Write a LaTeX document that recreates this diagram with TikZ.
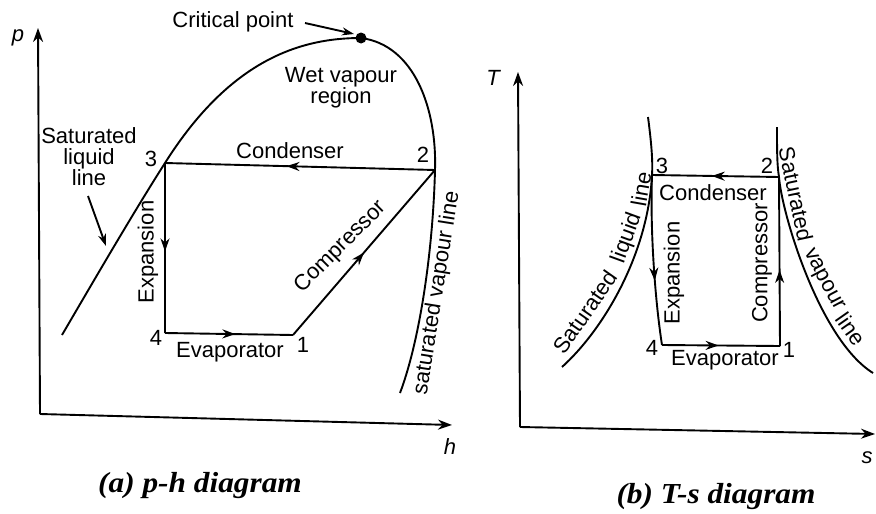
\documentclass[tikz,border=0pt]{standalone}
\usepackage{fontspec}
\setmainfont{Liberation Sans}
\newfontfamily\capfont{Liberation Serif}
\usetikzlibrary{arrows.meta,decorations.markings}
\newcommand\labfont{\fontsize{22}{21}\selectfont}
\begin{document}
\begin{tikzpicture}[x=1pt,y=-1pt,
  ln/.style={line width=1.9pt, line join=round},
  axis/.style={line width=1.9pt,-{Stealth[length=14pt,width=10pt]}},
  midarrow/.style={decoration={markings,mark=at position #1 with {\arrow{Stealth[length=13pt,width=9pt]}}},postaction={decorate}},
  lab/.style={font=\labfont, inner sep=0pt},
  axlab/.style={font=\labfont\itshape, inner sep=0pt},
  caption/.style={inner sep=0pt}]
\useasboundingbox (0,0) rectangle (876,514);

% ---------------- (a) p-h diagram ----------------
\coordinate (O1) at (40,414);
\coordinate (Ptop) at (38,28);
\coordinate (Hend) at (452,425);
\draw[axis] (O1) -- (Ptop);
\draw[axis] (O1) -- (Hend);
\node[axlab] (plab) at (18,38) {p};
\node[axlab] (hlab) at (450,447) {h};

\coordinate (CP) at (361,38);
\coordinate (L1) at (293,335);
\coordinate (L2) at (435,170);
\coordinate (L3) at (165,163);
\coordinate (L4) at (165,333);
\coordinate (Lbot) at (62,335);
\coordinate (Rbot) at (400,393);

% dome
\draw[ln] (Lbot) .. controls (100,270) and (135,210) .. (L3)
  .. controls (230,60) and (300,38) .. (CP)
  .. controls (415,45) and (437,110) .. (L2)
  .. controls (433,250) and (420,340) .. (Rbot);
\fill (CP) circle (5.5);

% cycle
\draw[ln,midarrow=0.55] (L2) -- (L3);
\draw[ln,midarrow=0.52] (L3) -- (L4);
\draw[ln,midarrow=0.55] (L4) -- (L1);
\draw[ln,midarrow=0.5] (L1) -- (L2);

% labels
\node[lab] (cpt) at (233,22) {Critical point};
\coordinate (cpa) at (305,23);
\draw[ln,-{Stealth[length=12pt,width=8pt]}] (cpa) -- (354,34);
\node[lab, align=center] (wet) at (341,88) {Wet vapour\\region};
\node[lab, align=center] (satliq) at (89,157) {Saturated\\liquid\\line};
\coordinate (satliqtip) at (106,246);
\coordinate (satliqtail) at (88,196);
\draw[ln,-{Stealth[length=12pt,width=8pt]}] (satliqtail) -- (satliqtip);
\node[lab] (condA) at (290,151) {Condenser};
\node[lab] (n3A) at (151,159) {3};
\node[lab] (n2A) at (423,155) {2};
\node[lab, rotate=90] (expA) at (148,252) {Expansion};
\node[lab] (n4A) at (156,338) {4};
\node[lab] (n1A) at (303,345) {1};
\node[lab] (evapA) at (230,352) {Evaporator};
\node[lab, rotate=45] (compA) at (341,247) {Compressor};
\node[lab, rotate=81] (satvapA) at (437,293) {saturated vapour line};

\node[caption] (capa) at (200,486) {\scalebox{1.08}[1]{\capfont\bfseries\itshape\fontsize{29}{29}\selectfont (a) p-h diagram}};

% ---------------- (b) T-s diagram ----------------
\coordinate (O2) at (520,427);
\coordinate (Ttop) at (518,72);
\coordinate (Send) at (875,434);
\draw[axis] (O2) -- (Ttop);
\draw[axis] (O2) -- (Send);
\node[axlab] (tlab) at (493,78) {T};
\node[axlab] (slab) at (867,458) {s};

\coordinate (R1) at (780,346);
\coordinate (R2) at (779,177);
\coordinate (R3) at (652,175);
\coordinate (R4) at (662,345);

\draw[ln] (648,117) .. controls (651,140) and (653,160) .. (R3)
  .. controls (648,255) and (603,330) .. (562,367);
\draw[ln] (777,127) .. controls (777,150) and (777,165) .. (R2)
  .. controls (782,215) and (820,340) .. (873,373);

\draw[ln,midarrow=0.53] (R2) -- (R3);
\draw[ln,midarrow=0.62] (R3) .. controls (650,230) and (655,300) .. (R4);
\draw[ln,midarrow=0.48] (R4) -- (R1);
\draw[ln,midarrow=0.45] (R1) -- (R2);

\node[lab] (condB) at (713,193) {Condenser};
\node[lab] (n3B) at (662,166) {3};
\node[lab] (n2B) at (767,166) {2};
\node[lab, rotate=90] (expB) at (674,273) {Expansion};
\node[lab, rotate=90] (compB) at (762,263) {Compressor};
\node[lab] (n4B) at (652,348) {4};
\node[lab] (n1B) at (789,350) {1};
\node[lab] (evapB) at (725,360) {Evaporator};

% Saturated liquid line (following the curve)
\node[lab, rotate=55] (sl1) at (585,312) {Saturated};
\node[lab, rotate=70] (sl2) at (627,238) {liquid};
\node[lab, rotate=80] (sl3) at (641,189) {line};
% Saturated vapour line (following the curve)
\node[lab, rotate=-78] (sv1) at (796,194) {Saturated};
\node[lab, rotate=-62] (sv2) at (823,280) {vapour};
\node[lab, rotate=-55] (sv3) at (851,329) {line};

\node[caption] (capb) at (716,497) {\scalebox{1.08}[1]{\capfont\bfseries\itshape\fontsize{29}{29}\selectfont (b) T-s diagram}};
\end{tikzpicture}
\end{document}
